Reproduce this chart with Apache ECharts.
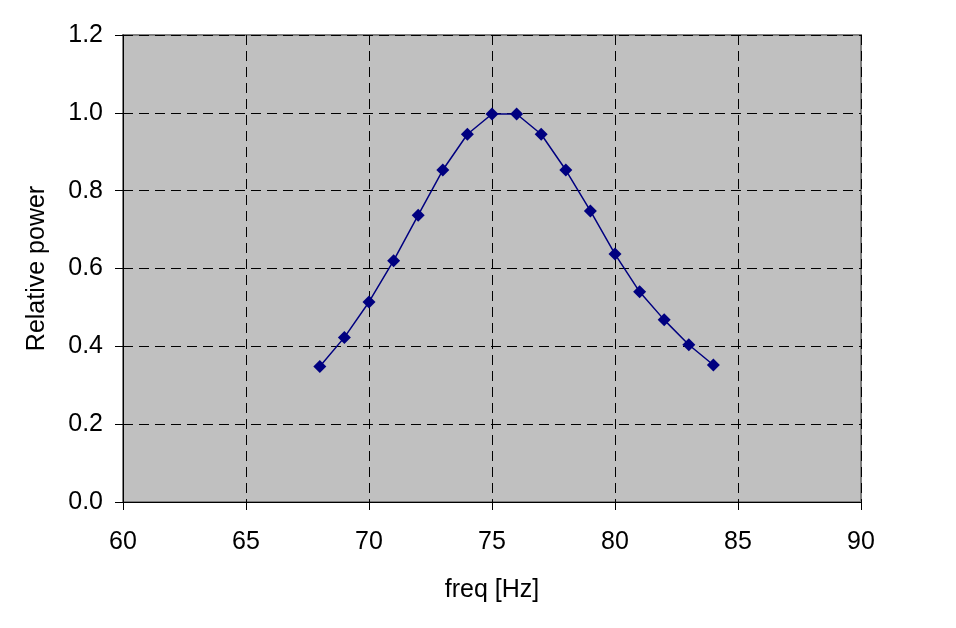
<!DOCTYPE html>
<html><head><meta charset="utf-8">
<script src="https://cdn.jsdelivr.net/npm/echarts@6/dist/echarts.min.js"></script>
<style>html,body{margin:0;padding:0;background:#fff}#c{width:956px;height:628px}</style>
</head><body><div id="c"></div>
<script>
const freq = [68,69,70,71,72,73,74,75,76,77,78,79,80,81,82,83,84];
const power = [0.348,0.423,0.514,0.620,0.737,0.853,0.945,0.997,0.997,0.945,0.853,0.748,0.637,0.540,0.468,0.404,0.352];
const xTicks = [60,65,70,75,80,85,90];
const yTicks = [0.0,0.2,0.4,0.6,0.8,1.0,1.2];
const xName = 'freq [Hz]';
const yName = 'Relative power';

const font = 'Liberation Sans, Arial, sans-serif';
const chart = echarts.init(document.getElementById('c'));
chart.setOption({
  backgroundColor: '#fff',
  animation: false,
  grid: {left:123, right:95, top:35, bottom:126, show:true, backgroundColor:'#C0C0C0', borderColor:'#808080', borderWidth:2},
  xAxis: {
    type:'value', min:xTicks[0], max:xTicks[xTicks.length-1], interval:5,
    name:xName, nameLocation:'middle', nameGap:76,
    nameTextStyle:{fontFamily:font, fontSize:25, color:'#000'},
    axisLine:{show:true, onZero:false, lineStyle:{color:'#000', width:1}},
    axisTick:{show:true, inside:false, length:8, lineStyle:{color:'#000'}},
    axisLabel:{fontFamily:font, fontSize:25, color:'#000', margin:28},
    splitLine:{show:true, lineStyle:{color:'#000', type:[10,6], width:1}}
  },
  yAxis: {
    type:'value', min:yTicks[0], max:yTicks[yTicks.length-1], interval:0.2,
    name:yName, nameLocation:'middle', nameGap:73,
    nameTextStyle:{fontFamily:font, fontSize:25, color:'#000'},
    axisLine:{show:true, lineStyle:{color:'#000', width:1}},
    axisTick:{show:true, inside:false, length:8, lineStyle:{color:'#000'}},
    axisLabel:{fontFamily:font, fontSize:25, color:'#000', margin:20, formatter:v=>v.toFixed(1)},
    splitLine:{show:true, lineStyle:{color:'#000', type:[10,6], width:1}}
  },
  series: [{
    type:'line',
    data: freq.map((f,i)=>[f, power[i]]),
    symbol:'diamond', symbolSize:13,
    lineStyle:{color:'#000080', width:1.5},
    itemStyle:{color:'#000080'}
  }]
});
</script></body></html>
